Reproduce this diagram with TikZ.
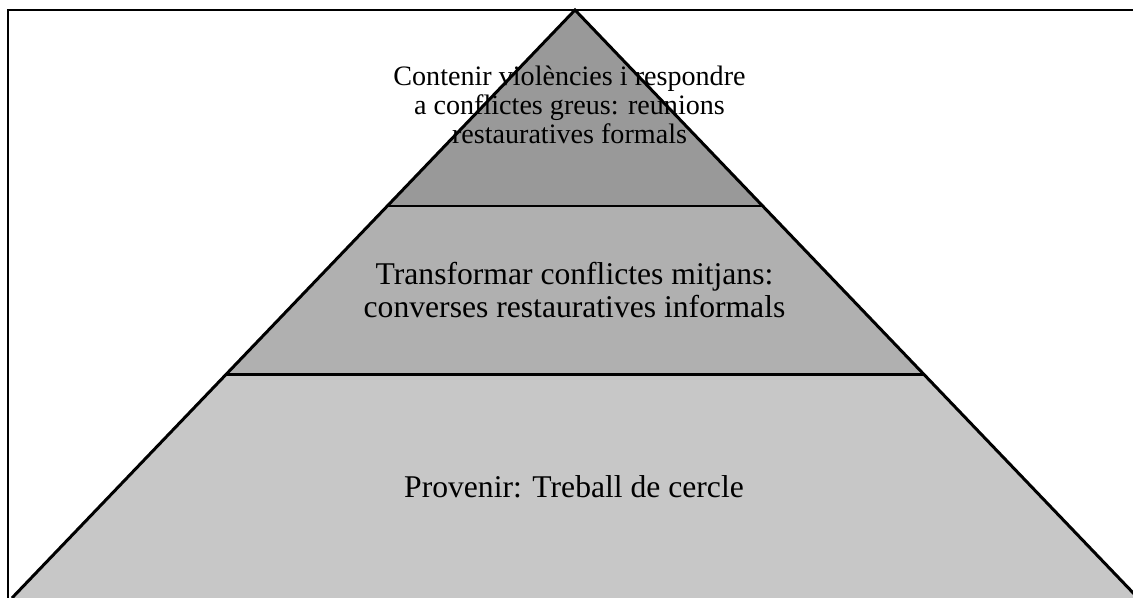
\documentclass[tikz,border=0pt]{standalone}
\usepackage{fontspec}
\setmainfont{Liberation Serif}
\usetikzlibrary{calc}
\tikzset{
  % --- pyramid ---
  outline/.style={draw=black, line width=1.7pt, line join=miter},
  divider/.style={draw=black, line width=1.6pt},
  frameline/.style={draw=black, line width=0.9pt},
  % --- band labels ---
  toplabel/.style={align=center, inner sep=0pt,
    font=\fontsize{16}{16.3}\selectfont},
  bandlabel/.style={align=center, inner sep=0pt,
    font=\fontsize{18}{19.3}\selectfont},
}

\begin{document}
\begin{tikzpicture}
    \useasboundingbox (0,0) rectangle (22.66,11.96);
    % corners
    \coordinate (apex) at (11.5,11.76);
    \coordinate (bl) at (0.24,0);
    \coordinate (br) at (22.76,0);
    % band edges
    \coordinate (l1) at ($(apex)!0.3333!(bl)$);
    \coordinate (r1) at ($(apex)!0.3333!(br)$);
    \coordinate (l2) at ($(apex)!0.62!(bl)$);
    \coordinate (r2) at ($(apex)!0.62!(br)$);
    % fills
    \fill[black!22] (l2) -- (r2) -- (br) -- (bl) -- cycle;
    \fill[black!31] (l1) -- (r1) -- (r2) -- (l2) -- cycle;
    \fill[black!40] (apex) -- (r1) -- (l1) -- cycle;
    % frame (top and left only)
    \draw[frameline] (0.16,0) -- (0.16,11.76) -- (22.66,11.76);
    % outline and dividers
    \draw[outline] (bl) -- (apex) -- (br);
    \draw[divider] (l1) -- (r1);
    \draw[divider] (l2) -- (r2);
    % labels
    \node[toplabel] (top) at (11.39,9.86)
      {Contenir violències i respondre\\a conflictes greus: reunions\\restauratives formals};
    \node[bandlabel] (mid) at (11.49,6.16)
      {Transformar conflictes mitjans:\\converses restauratives informals};
    \node[bandlabel] (base) at (11.48,2.22) {Provenir: Treball de cercle};
\end{tikzpicture}
\end{document}
